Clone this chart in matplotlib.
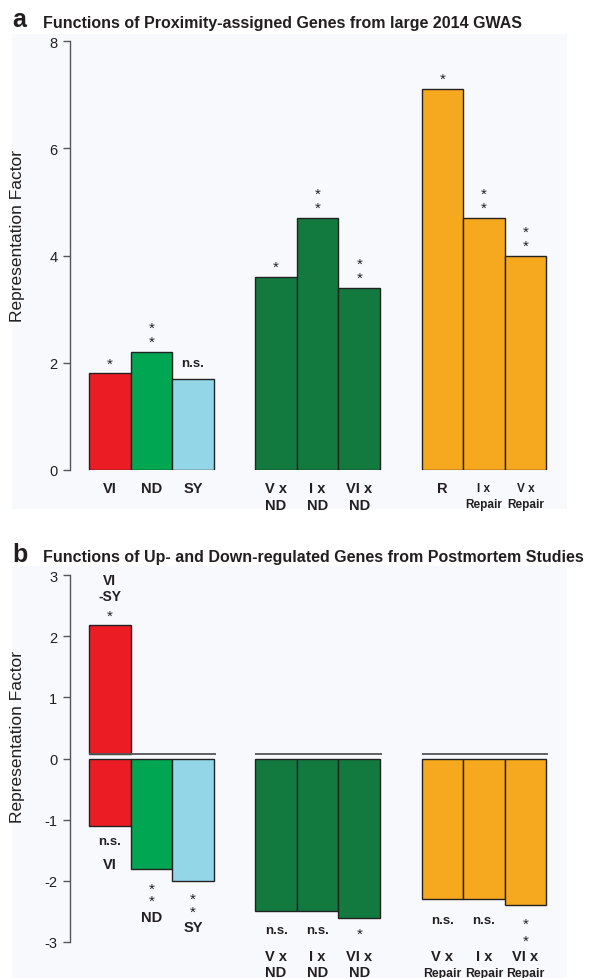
import matplotlib
matplotlib.use("Agg")
import matplotlib.pyplot as plt
from matplotlib.patches import Rectangle

plt.rcParams["font.family"] = ["Liberation Sans", "DejaVu Sans"]
plt.rcParams["axes.unicode_minus"] = False

# ------------------------
# Data
# ------------------------
# panel a: proximity-assigned genes, 2014 GWAS
a_labels = ["VI", "ND", "SY", "V x\nND", "I x\nND", "VI x\nND", "R", "I x\nRepair", "V x\nRepair"]
a_values = [1.8, 2.2, 1.7, 3.6, 4.7, 3.4, 7.1, 4.7, 4.0]
a_sig = ["*", "**", "n.s.", "*", "**", "**", "*", "**", "**"]

# panel b: up/down regulated genes, postmortem studies
b_up_label = "VI\n-SY"
b_up_value = 2.18
b_up_sig = "*"
b_labels = ["VI", "ND", "SY", "V x\nND", "I x\nND", "VI x\nND", "V x\nRepair", "I x\nRepair", "VI x\nRepair"]
b_values = [-1.1, -1.8, -2.0, -2.5, -2.5, -2.6, -2.3, -2.3, -2.4]
b_sig = ["n.s.", "**", "**", "n.s.", "n.s.", "*", "n.s.", "n.s.", "**"]

colors = ["#ec1c24", "#00a651", "#93d6e8",
          "#127a3e", "#127a3e", "#127a3e",
          "#f6a81e", "#f6a81e", "#f6a81e"]
positions = [0, 1, 2, 4, 5, 6, 8, 9, 10]
groups = [(0, 2), (4, 6), (8, 10)]

W, H = 592, 979
fig = plt.figure(figsize=(W / 100, H / 100), dpi=100)
fig.patch.set_facecolor("white")

BG = "#f8f9fc"
TXT = "#231f20"


def fy(py):
    return 1 - py / H


def pt(px):
    return px * 0.72


# light panel backgrounds
fig.add_artist(Rectangle((12 / W, fy(510)), (567 - 12) / W, (510 - 35) / H,
                         transform=fig.transFigure, facecolor=BG, edgecolor="none", zorder=0))
fig.add_artist(Rectangle((12 / W, 0), (567 - 12) / W, (979 - 567) / H,
                         transform=fig.transFigure, facecolor=BG, edgecolor="none", zorder=0))


def style_axis(ax, lo, hi):
    ax.set_facecolor("none")
    for s in ["top", "right", "bottom"]:
        ax.spines[s].set_visible(False)
    ax.spines["left"].set_color("#555555")
    ax.spines["left"].set_linewidth(1.0)
    ax.spines["left"].set_bounds(lo, hi)
    ax.set_xticks([])
    ax.tick_params(axis="y", length=5, width=1.0, color="#555555",
                   labelsize=10.5, labelcolor=TXT, pad=4)
    ax.set_xlim(-0.96, 11.0)


def stars(ax, x, y0, text, px_offsets, fs=11):
    if text == "n.s.":
        ax.annotate("n.s.", (x, y0), xytext=(0, pt(px_offsets[0])), textcoords="offset points",
                    ha="center", va="baseline", fontsize=9.5, fontweight="bold",
                    color=TXT, annotation_clip=False)
    else:
        for k in range(len(text)):
            ax.annotate("*", (x, y0), xytext=(0, pt(px_offsets[k])), textcoords="offset points",
                        ha="center", va="baseline", fontsize=fs, color=TXT,
                        annotation_clip=False)


# ------------------------
# Panel a
# ------------------------
axa = fig.add_axes([70 / W, fy(471), (567 - 70) / W, (471 - 42) / H])
axa.bar(positions, a_values, width=1.0, color=colors, edgecolor="#222222", linewidth=1.0, zorder=2)
axa.set_ylim(0, 8)
axa.set_yticks([0, 2, 4, 6, 8])
style_axis(axa, 0, 8)

for x, v, s in zip(positions, a_values, a_sig):
    if s == "n.s.":
        stars(axa, x, v, s, [13])
    else:
        stars(axa, x, v, s, [6, 20])

for x, lab in zip(positions, a_labels):
    small = "Repair" in lab
    lines = lab.split("\n")
    for k, line in enumerate(lines):
        axa.annotate(line, (x, 0), xytext=(0, pt(-22 - 17 * k if not small else -21 - 16 * k)),
                     textcoords="offset points", ha="center", va="baseline",
                     fontsize=8.5 if small else 10.5, fontweight="bold", color=TXT,
                     annotation_clip=False)

fig.text(12 / W, fy(27), "a", fontsize=18, fontweight="bold", color=TXT, va="baseline")
fig.text(43 / W, fy(28), "Functions of Proximity-assigned Genes from large 2014 GWAS",
         fontsize=11.5, fontweight="bold", color=TXT, va="baseline")
fig.text(18 / W, fy(236), "Representation Factor", rotation=90, fontsize=12.5,
         color=TXT, ha="center", va="center")

# ------------------------
# Panel b
# ------------------------
axb = fig.add_axes([70 / W, fy(943), (567 - 70) / W, (943 - 576) / H])
base = 0.08
axb.bar(positions[0], b_up_value - base, bottom=base, width=1.0, color=colors[0],
        edgecolor="#222222", linewidth=1.0, zorder=2)
axb.bar(positions, b_values, width=1.0, color=colors, edgecolor="#222222", linewidth=1.0, zorder=2)
for g0, g1 in groups:
    axb.hlines(base, g0 - 0.5, g1 + 0.55, color="#555555", linewidth=1.3, zorder=3)
axb.set_ylim(-3, 3)
axb.set_yticks([-3, -2, -1, 0, 1, 2, 3])
style_axis(axb, -3, 3)

# up bar labels
stars(axb, positions[0], b_up_value, b_up_sig, [5])
for k, line in enumerate(b_up_label.split("\n")[::-1]):
    axb.annotate(line, (positions[0], b_up_value), xytext=(0, pt(25 + 16 * k)),
                 textcoords="offset points", ha="center", va="baseline",
                 fontsize=10, fontweight="bold", color=TXT, annotation_clip=False)

# first group: labels follow each bar
first_sig_px = {0: [-18], 1: [-24, -36], 2: [-22, -35]}
first_lab_px = {0: -42, 1: -52, 2: -50}
for i in range(3):
    x, v = positions[i], b_values[i]
    stars(axb, x, v, b_sig[i], first_sig_px[i])
    axb.annotate(b_labels[i], (x, v), xytext=(0, pt(first_lab_px[i])),
                 textcoords="offset points", ha="center", va="baseline",
                 fontsize=10.5, fontweight="bold", color=TXT, annotation_clip=False)

# other groups: labels aligned along the bottom
for i in range(3, 9):
    x = positions[i]
    if i < 6:
        sig_px = [9] if b_sig[i] == "n.s." else [4]
    else:
        sig_px = [19] if b_sig[i] == "n.s." else [14, -3]
    stars(axb, x, -3, b_sig[i], sig_px)
    lines = b_labels[i].split("\n")
    for k, line in enumerate(lines):
        axb.annotate(line, (x, -3), xytext=(0, pt(-18 - 16 * k)),
                     textcoords="offset points", ha="center", va="baseline",
                     fontsize=10.5 if line != "Repair" else 8.8, fontweight="bold",
                     color=TXT, annotation_clip=False)

fig.text(12 / W, fy(562), "b", fontsize=18, fontweight="bold", color=TXT, va="baseline")
fig.text(43 / W, fy(562), "Functions of Up- and Down-regulated Genes from Postmortem Studies",
         fontsize=11.5, fontweight="bold", color=TXT, va="baseline")
fig.text(18 / W, fy(737), "Representation Factor", rotation=90, fontsize=12.5,
         color=TXT, ha="center", va="center")

fig.savefig("out.png", dpi=100, facecolor="white")
